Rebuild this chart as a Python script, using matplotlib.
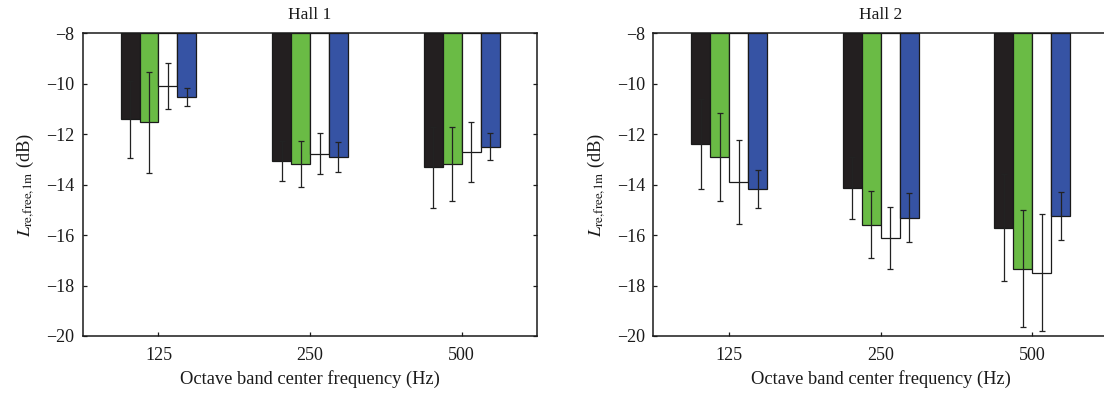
import matplotlib
matplotlib.use("Agg")
import matplotlib.pyplot as plt
import numpy as np

plt.rcParams['font.family'] = ['Liberation Serif', 'DejaVu Serif']
plt.rcParams['mathtext.fontset'] = 'stix'

freqs = ["125", "250", "500"]
series_colors = ["#231f20", "#6abb45", "#ffffff", "#3653a4"]

# Hall 1 values (dB) and error half-widths
hall1_black = [-11.41, -13.05, -13.32]
hall1_green = [-11.53, -13.18, -13.18]
hall1_white = [-10.09, -12.77, -12.70]
hall1_blue = [-10.54, -12.89, -12.49]
hall1_black_err = [1.53, 0.80, 1.62]
hall1_green_err = [2.00, 0.91, 1.48]
hall1_white_err = [0.90, 0.80, 1.20]
hall1_blue_err = [0.36, 0.60, 0.53]

# Hall 2 values (dB) and error half-widths
hall2_black = [-12.39, -14.13, -15.70]
hall2_green = [-12.89, -15.58, -17.34]
hall2_white = [-13.90, -16.12, -17.50]
hall2_blue = [-14.16, -15.31, -15.24]
hall2_black_err = [1.78, 1.24, 2.13]
hall2_green_err = [1.74, 1.31, 2.32]
hall2_white_err = [1.66, 1.22, 2.32]
hall2_blue_err = [0.76, 0.96, 0.95]

halls = [
    ("Hall 1", [hall1_black, hall1_green, hall1_white, hall1_blue],
     [hall1_black_err, hall1_green_err, hall1_white_err, hall1_blue_err]),
    ("Hall 2", [hall2_black, hall2_green, hall2_white, hall2_blue],
     [hall2_black_err, hall2_green_err, hall2_white_err, hall2_blue_err]),
]

fig = plt.figure(figsize=(11.04, 3.95), dpi=100)
W, H = 1104, 395
ax_rects = [
    (82.7 / W, (H - 336) / H, 454.7 / W, (336 - 33.3) / H),
    (653.3 / W, (H - 336) / H, 454.7 / W, (336 - 33.3) / H),
]

base = -8
bw = 0.125
offsets = [-1.5 * bw, -0.5 * bw, 0.5 * bw, 1.5 * bw]
txt = '#1a1a1a'

for rect, (title, vals, errs) in zip(ax_rects, halls):
    ax = fig.add_axes(rect)
    x = np.arange(1, len(freqs) + 1)
    for k in range(4):
        v = np.array(vals[k])
        ax.bar(x + offsets[k], v - base, bottom=base, width=bw,
               color=series_colors[k], edgecolor='#1a1a1a', linewidth=0.9, zorder=2)
    for k in range(4):
        v = np.array(vals[k])
        ax.errorbar(x + offsets[k], v, yerr=errs[k], fmt='none',
                    ecolor='#222222', elinewidth=0.9, capsize=2.0, capthick=0.9, zorder=3)
    ax.set_xlim(0.5, 3.5)
    ax.set_ylim(-20, -8)
    ax.set_xticks(x)
    ax.set_xticklabels(freqs)
    ax.set_yticks(np.arange(-20, -7, 2))
    ax.set_yticklabels([f"\u2212{abs(t)}" for t in range(-20, -7, 2)])
    ax.tick_params(direction='in', length=3, width=0.9, labelsize=13,
                   top=True, right=True, colors=txt, labelcolor=txt)
    ax.tick_params(axis='y', pad=6)
    ax.tick_params(axis='x', pad=8)
    for s in ax.spines.values():
        s.set_linewidth(1.1)
        s.set_color(txt)
        s.set_zorder(4)
    ax.set_title(title, fontsize=12.5, pad=10, color=txt)
    ax.set_xlabel("Octave band center frequency (Hz)", fontsize=13.3, labelpad=4, color=txt)
    ax.set_ylabel(r"$L_{\mathrm{re{,}free{,}1m}}$ (dB)", fontsize=13.3, labelpad=7, color=txt)

fig.savefig("out.png", dpi=100)
